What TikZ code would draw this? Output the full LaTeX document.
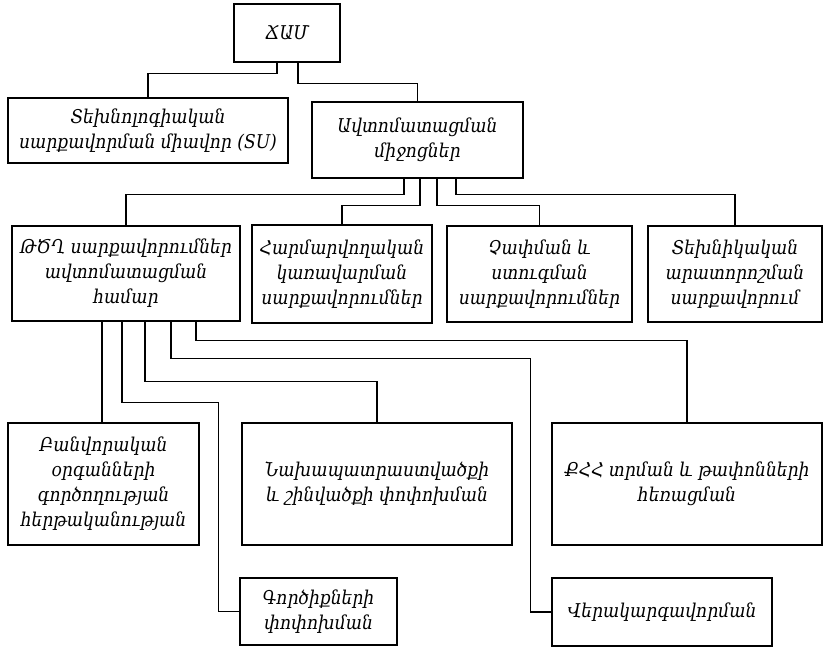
\documentclass[tikz,border=0pt]{standalone}
\usepackage{fontspec}
\setmainfont{DejaVu Serif}[FakeStretch=0.9]

\begin{document}
\begin{tikzpicture}[x=1pt,y=-1pt,line width=1.4pt,
  blk/.style={draw,align=center,inner sep=2pt,font=\itshape\fontsize{19}{25}\selectfont}]
  \useasboundingbox (0,0) rectangle (827,649);
  \node[blk,minimum width=106pt,minimum height=58pt] (jam) at (287,33) {ՃԱՄ};
  \node[blk,minimum width=280pt,minimum height=65pt] (su) at (148,130.5) {Տեխնոլոգիական\\սարքավորման միավոր (SU)};
  \node[blk,minimum width=211pt,minimum height=76pt] (avt) at (417.5,140) {Ավտոմատացման\\միջոցներ};
  \node[blk,minimum width=228pt,minimum height=95pt] (tsg) at (126,273.5) {ԹԾՂ սարքավորումներ\\ավտոմատացման\\համար};
  \node[blk,minimum width=180pt,minimum height=98pt] (harm) at (342,274) {Հարմարվողական\\կառավարման\\սարքավորումներ};
  \node[blk,minimum width=185pt,minimum height=96pt] (chap) at (539.5,274) {Չափման և\\ստուգման\\սարքավորումներ};
  \node[blk,minimum width=174pt,minimum height=96pt] (tekh) at (735,274) {Տեխնիկական\\արատորոշման\\սարքավորում};
  \node[blk,minimum width=191pt,minimum height=122pt] (banv) at (103.5,484) {Բանվորական\\օրգանների\\գործողության\\հերթականության};
  \node[blk,minimum width=270pt,minimum height=122pt] (nakh) at (377,484) {Նախապատրաստվածքի\\և շինվածքի փոփոխման};
  \node[blk,minimum width=270pt,minimum height=122pt] (qhh) at (687,484) {ՔՀՀ տրման և թափոնների\\հեռացման};
  \node[blk,minimum width=157pt,minimum height=67pt] (gorc) at (318.5,611.5) {Գործիքների\\փոփոխման};
  \node[blk,minimum width=220pt,minimum height=68pt] (verak) at (662,612) {Վերակարգավորման};

  \draw ([xshift=-10pt]jam.south) -- ++(0,11) -| (su.north);
  \draw ([xshift=11pt]jam.south) -- ++(0,21) -| (avt.north);
  \draw ([xshift=-13.5pt]avt.south) -- ++(0,16) -| (tsg.north);
  \draw ([xshift=2.5pt]avt.south) -- ++(0,27) -| (harm.north);
  \draw ([xshift=19.5pt]avt.south) -- ++(0,27) -| (chap.north);
  \draw ([xshift=38.5pt]avt.south) -- ++(0,16) -| (tekh.north);
  \draw ([xshift=-24pt]tsg.south) -- ([xshift=-24pt]tsg.south |- banv.north);
  \draw ([xshift=-4pt]tsg.south) -- ++(0,81) -| ([xshift=-21pt]gorc.west) -- (gorc.west);
  \draw ([xshift=19pt]tsg.south) -- ++(0,60) -| (nakh.north);
  \draw ([xshift=45pt]tsg.south) -- ++(0,37) -| ([xshift=-21pt]verak.west) -- (verak.west);
  \draw ([xshift=70pt]tsg.south) -- ++(0,19) -| (qhh.north);
\end{tikzpicture}
\end{document}
